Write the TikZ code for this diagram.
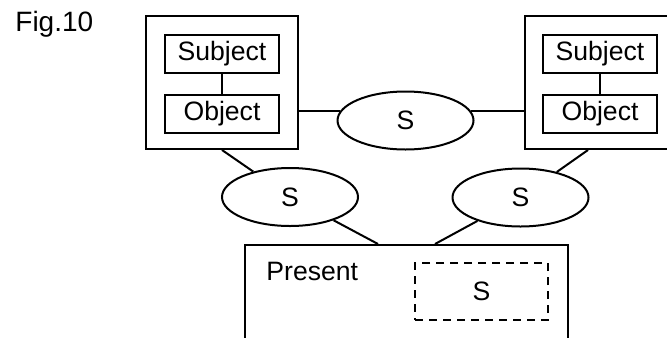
\documentclass[tikz,border=0pt]{standalone}
\usepackage{fontspec}
\setmainfont{Liberation Sans}
\usetikzlibrary{positioning}
\usetikzlibrary{calc}
\usetikzlibrary{shapes.geometric}

\tikzset{
	frame/.style={draw, line width=1pt, minimum width=76pt, minimum height=66.5pt, inner sep=0pt},
	part/.style={draw, line width=1pt, minimum width=57pt, minimum height=19pt, inner sep=0pt, font=\fontsize{13.3}{15}\selectfont},
	rel/.style={draw, ellipse, line width=1pt, minimum width=68pt, minimum height=29pt, inner sep=0pt, font=\fontsize{13.3}{15}\selectfont},
	link/.style={line width=1pt},
}

\begin{document}
\begin{tikzpicture}[x=0.5pt, y=-0.5pt]

	% ------------------------------------------------
	% Page area (the right frame and the bottom box run off it)
	\clip (0,0) rectangle (667,337);

	\node[anchor=base west, inner sep=0pt, font=\fontsize{14}{16}\selectfont] (figlabel) at (15,32) {Fig.10};

	% ----------------
	% Left frame
	\node[frame] (lbox) at (222,82.5) {};
	\node[part] (lsub) at (222,54) {Subject};
	\node[part, below=10pt of lsub] (lobj) {Object};

	% ----------------
	% Right frame
	\node[frame] (rbox) at (601,82.5) {};
	\node[part] (rsub) at (600,54) {Subject};
	\node[part, below=10pt of rsub] (robj) {Object};

	% ----------------
	% Relations
	\node[rel] (tops)   at (405.5,120.5) {S};
	\node[rel] (lows)   at (290,197)     {S};
	\node[rel] (rights) at (520.5,197.5) {S};

	% ----------------
	% Present box, open at the bottom
	\node[draw, line width=1pt, minimum width=161.5pt, minimum height=60pt, inner sep=0pt] (pres) at (406.5,305) {};
	\node[anchor=base west, inner sep=0pt, font=\fontsize{13.3}{15}\selectfont] (prestext) at (266,280) {Present};
	\node[draw, line width=0.9pt, dash pattern=on 4pt off 3pt, minimum width=66.5pt, minimum height=28.5pt, inner sep=0pt, font=\fontsize{13.3}{15}\selectfont] (presS) at (481.5,291.5) {S};

	% ------------------------------------------------
	% Relevant coordinates
	\path (pres.north) +(-28.5,0) coordinate (PresL);
	\path (pres.north) +(28.5,0)  coordinate (PresR);
	\path (rbox.south) +(-13,0)   coordinate (RBoxFoot);

	%%%%%%%%%%%%%%%%%%%%%%%%%%%%%%%%%%%%%%%%%
	% Links
	\draw[link] (lsub) -- (lobj);
	\draw[link] (rsub) -- (robj);

	\draw[link] (tops.172 -| lbox.east) -- (tops.172);
	\draw[link] (tops.8) -- (tops.8 -| rbox.west);

	\draw[link] (lbox.south) -- (lows);
	\draw[link] (RBoxFoot) -- (rights);

	\draw[link] (lows) -- (PresL);
	\draw[link] (rights) -- (PresR);

\end{tikzpicture}
\end{document}
